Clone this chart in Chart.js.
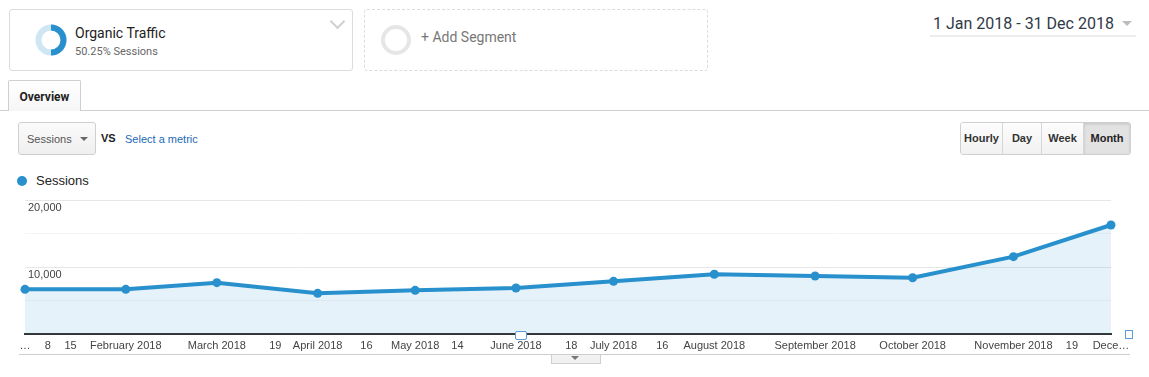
<!DOCTYPE html>
<html>
<head>
<meta charset="utf-8">
<title>Organic Traffic - Sessions</title>
<script src="https://cdn.jsdelivr.net/npm/chart.js@4"></script>
<style>
  html, body { margin: 0; padding: 0; background: #fff; }
  body { width: 1149px; height: 377px; position: relative; overflow: hidden; font-family: Roboto, "Liberation Sans", Arial, sans-serif; }
  .abs { position: absolute; }
  .segment { left: 9px; top: 9px; width: 342px; height: 60px; border: 1px solid #dcdcdc; border-radius: 3px; }
  .segment-add { left: 364px; top: 9px; width: 342px; height: 60px; border: 1px dashed #dcdcdc; border-radius: 3px; }
  .seg-title { left: 65px; top: 15px; font-size: 14px; color: #222; }
  .seg-sub { left: 65px; top: 35px; font-size: 11px; color: #666; }
  .chev { left: 322px; top: 6px; width: 9px; height: 9px; border-right: 2px solid #d0d0d0; border-bottom: 2px solid #d0d0d0; transform: rotate(45deg); }
  .add-text { left: 56px; top: 19px; font-size: 14px; color: #777; }
  .date { left: 933px; top: 14px; font-size: 16px; color: #2f3a48; white-space: nowrap; }
  .date-line { left: 930px; top: 35px; width: 206px; height: 2px; background: #ececec; }
  .tri { width: 0; height: 0; border-left: 5px solid transparent; border-right: 5px solid transparent; border-top: 5px solid #bbb; }
  .hline { left: 0; top: 110px; width: 1149px; height: 1px; background: #cfcfcf; }
  .tab { left: 8px; top: 80px; width: 71px; height: 30px; border: 1px solid #cfcfcf; border-bottom: none; border-radius: 2px 2px 0 0; background: linear-gradient(#ffffff, #f6f6f6); font-weight: bold; font-size: 12px; color: #222; line-height: 33px; text-align: center; }
  .metric { left: 18px; top: 122px; width: 76px; height: 31px; border: 1px solid #cfcfcf; border-radius: 3px; background: linear-gradient(#fbfbfb, #efefef); font-family: "Liberation Sans", Arial, sans-serif; font-size: 11px; color: #555; }
  .vs { left: 101px; top: 132px; font-family: "Liberation Sans", Arial, sans-serif; font-weight: bold; font-size: 11px; color: #222; }
  .sel { left: 125px; top: 133px; font-family: "Liberation Sans", Arial, sans-serif; font-size: 11px; color: #1b69b6; }
  .btns { left: 960px; top: 122px; height: 31px; border: 1px solid #cfcfcf; border-radius: 3px; display: flex; overflow: hidden; font-family: "Liberation Sans", Arial, sans-serif; font-weight: bold; font-size: 11px; color: #333; }
  .btns div { height: 31px; line-height: 31px; text-align: center; background: linear-gradient(#fdfdfd, #f1f1f1); border-left: 1px solid #d6d6d6; }
  .btns div:first-child { border-left: none; }
  .btns div.on { background: #e2e2e2; box-shadow: inset 0 1px 3px rgba(0,0,0,0.15); color: #222; }
  .legend-dot { left: 17px; top: 176px; width: 10px; height: 10px; border-radius: 50%; background: #2890cc; }
  .legend-txt { left: 36px; top: 173px; font-family: "Liberation Sans", Arial, sans-serif; font-size: 13px; color: #222; }
  .bottom-line { left: 19px; top: 354px; width: 1111px; height: 1px; background: #cfcfcf; }
  .pull { left: 551px; top: 355px; width: 48px; height: 8px; border: 1px solid #cfcfcf; border-top: none; background: #f1f1f1; }
  .note { left: 515px; top: 331px; width: 10px; height: 7px; border: 1px solid #5b9bd5; border-radius: 2px; background: #fff; }
  .note2 { left: 1125px; top: 330px; width: 6px; height: 7px; border: 1px solid #5b9bd5; background: #fff; }
  #chartBox { position: absolute; left: 0; top: 190px; width: 1149px; height: 165px; }
</style>
</head>
<body>

<div class="abs segment">
  <svg class="abs" style="left:23px;top:12px" width="36" height="36" viewBox="0 0 36 36">
    <circle cx="18" cy="18" r="12.5" fill="none" stroke="#cfe6f5" stroke-width="6"/>
    <path d="M18 5.5 A12.5 12.5 0 0 1 18 30.5" fill="none" stroke="#2890cc" stroke-width="6"/>
  </svg>
  <div class="abs seg-title">Organic Traffic</div>
  <div class="abs seg-sub">50.25% Sessions</div>
  <div class="abs chev"></div>
</div>

<div class="abs segment-add">
  <svg class="abs" style="left:13px;top:12px" width="36" height="36" viewBox="0 0 36 36">
    <circle cx="18" cy="18" r="13" fill="none" stroke="#e6e6e6" stroke-width="4"/>
  </svg>
  <div class="abs add-text">+ Add Segment</div>
</div>

<div class="abs date">1 Jan 2018 - 31 Dec 2018</div>
<div class="abs tri" style="left:1122px;top:21px;border-top-color:#bdbdbd"></div>
<div class="abs date-line"></div>

<div class="abs hline"></div>
<div class="abs tab">Overview</div>

<div class="abs metric">
  <div class="abs" style="left:8px;top:10px">Sessions</div>
  <div class="abs tri" style="left:61px;top:14px;border-top-color:#666;border-left-width:4px;border-right-width:4px;border-top-width:4px"></div>
</div>
<div class="abs vs">VS</div>
<div class="abs sel">Select a metric</div>

<div class="abs btns">
  <div style="width:41px">Hourly</div>
  <div style="width:38px">Day</div>
  <div style="width:41px">Week</div>
  <div class="on" style="width:46px">Month</div>
</div>

<div class="abs legend-dot"></div>
<div class="abs legend-txt">Sessions</div>

<div id="chartBox"><canvas id="sessionsChart"></canvas></div>

<div class="abs note"></div>
<div class="abs note2"></div>
<div class="abs bottom-line"></div>
<div class="abs pull">
  <div class="abs tri" style="left:19px;top:1px;border-top-color:#777;border-left-width:4px;border-right-width:4px;border-top-width:4px"></div>
</div>

<script>
// Monthly sessions, one point on the 1st of each month (day of year, 0 = 1 Jan)
const pointDays = [0, 31, 59, 90, 120, 151, 181, 212, 243, 273, 304, 334];
const sessions = [6670, 6670, 7660, 6070, 6520, 6870, 7860, 8910, 8660, 8400, 11540, 16270];

// x-axis tick positions (day of year) and their labels
const tickDays = [0, 7, 14, 31, 59, 77, 90, 105, 120, 133, 151, 168, 181, 196, 212, 243, 273, 304, 322, 334];
const tickLabels = ['…', '8', '15', 'February 2018', 'March 2018', '19', 'April 2018', '16', 'May 2018', '14',
    'June 2018', '18', 'July 2018', '16', 'August 2018', 'September 2018', 'October 2018', 'November 2018', '19', 'Dece…'];

// y-axis
const yMax = 20000;
const yStep = 5000;
const yLabelled = [10000, 20000];

const blue = '#2890cc';

function formatNumber(value) {
    return new Intl.NumberFormat('en-US').format(value);
}

const points = pointDays.map((d, i) => ({ x: d, y: sessions[i] }));

const ctx = document.getElementById('sessionsChart');

new Chart(ctx, {
    type: 'line',
    data: {
        datasets: [{
            label: 'Sessions',
            data: points,
            borderColor: blue,
            borderWidth: 4,
            backgroundColor: 'rgba(40,144,204,0.12)',
            fill: 'origin',
            tension: 0,
            clip: false,
            pointRadius: 4.5,
            pointBackgroundColor: blue,
            pointBorderColor: blue,
            pointBorderWidth: 0
        }]
    },
    options: {
        responsive: true,
        maintainAspectRatio: false,
        animation: false,
        layout: {
            padding: { left: 25, right: 38, top: 10, bottom: 0 }
        },
        scales: {
            x: {
                type: 'linear',
                min: pointDays[0],
                max: pointDays[pointDays.length - 1],
                afterBuildTicks: function(scale) {
                    scale.ticks = tickDays.map(v => ({ value: v }));
                },
                afterFit: function(scale) {
                    scale.height = 21;
                },
                grid: { display: false, drawTicks: false },
                border: { display: true, color: '#333', width: 2 },
                ticks: {
                    autoSkip: false,
                    maxRotation: 0,
                    padding: 5,
                    color: '#444',
                    font: { family: '"Liberation Sans", Arial, sans-serif', size: 11 },
                    callback: function(value, index) {
                        return tickLabels[index];
                    }
                }
            },
            y: {
                min: 0,
                max: yMax,
                afterFit: function(scale) {
                    scale.width = 0;
                },
                border: { display: false },
                grid: {
                    drawTicks: false,
                    color: function(context) {
                        const v = context.tick.value;
                        if (v === 0) return 'rgba(0,0,0,0)';
                        return yLabelled.includes(v) ? '#e6e6e6' : '#f4f4f4';
                    }
                },
                ticks: {
                    stepSize: yStep,
                    mirror: true,
                    padding: 3,
                    labelOffset: 8,
                    color: '#444',
                    font: { family: '"Liberation Sans", Arial, sans-serif', size: 11 },
                    callback: function(value) {
                        return yLabelled.includes(value) ? formatNumber(value) : '';
                    }
                }
            }
        },
        plugins: {
            legend: { display: false },
            tooltip: { enabled: false }
        }
    }
});
</script>
</body>
</html>
